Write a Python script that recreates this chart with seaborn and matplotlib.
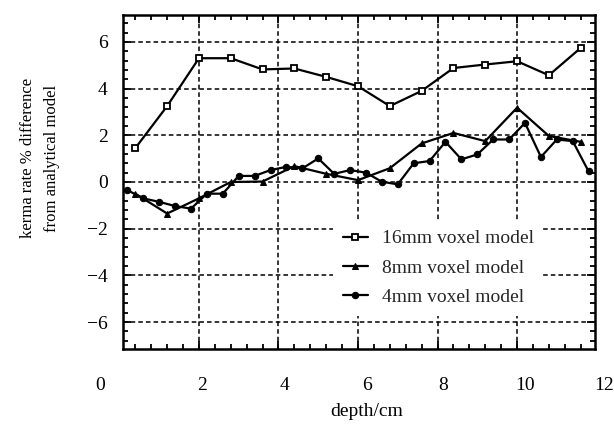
import numpy as np
import pandas as pd
import seaborn as sns
import matplotlib
matplotlib.use("Agg")
import matplotlib.pyplot as plt
from matplotlib.ticker import MultipleLocator, AutoMinorLocator
import matplotlib.transforms as mtransforms

# ---------------- data ----------------
depth_16mm = [0.4, 1.2, 2.0, 2.8, 3.6, 4.4, 5.2, 6.0, 6.8, 7.6, 8.4, 9.2, 10.0, 10.8, 11.6]
diff_16mm = [1.45, 3.25, 5.3, 5.3, 4.82, 4.86, 4.5, 4.1, 3.25, 3.9, 4.88, 5.03, 5.17, 4.57, 5.74]

depth_8mm = [0.4, 1.2, 2.0, 2.8, 3.6, 4.4, 5.2, 6.0, 6.8, 7.6, 8.4, 9.2, 10.0, 10.8, 11.6]
diff_8mm = [-0.5, -1.35, -0.7, 0.0, 0.02, 0.68, 0.35, 0.08, 0.59, 1.65, 2.1, 1.75, 3.18, 1.97, 1.72]

depth_4mm = [0.2, 0.6, 1.0, 1.4, 1.8, 2.2, 2.6, 3.0, 3.4, 3.8, 4.2, 4.6, 5.0, 5.4, 5.8,
             6.2, 6.6, 7.0, 7.4, 7.8, 8.2, 8.6, 9.0, 9.4, 9.8, 10.2, 10.6, 11.0, 11.4, 11.8]
diff_4mm = [-0.35, -0.7, -0.85, -1.03, -1.14, -0.5, -0.5, 0.26, 0.26, 0.51, 0.65, 0.58, 1.01, 0.35, 0.51,
            0.4, 0.01, -0.1, 0.8, 0.9, 1.72, 0.97, 1.18, 1.82, 1.82, 2.53, 1.07, 1.82, 1.75, 0.45]

series_labels = ["16mm voxel model", "8mm voxel model", "4mm voxel model"]
x_ticks = [0, 2, 4, 6, 8, 10, 12]
y_ticks = [-6, -4, -2, 0, 2, 4, 6]
x_label = "depth/cm"
y_label = "kerma rate % difference\nfrom analytical model"

# ---------------- style ----------------
sns.set_theme(style="white")
plt.rcParams["font.family"] = ["Liberation Serif", "DejaVu Serif"]
plt.rcParams["axes.unicode_minus"] = True

fig = plt.figure(figsize=(6.14, 4.26), dpi=100)
ax = fig.add_axes([123 / 614, 1 - 349 / 426, (595 - 123) / 614, (349 - 15) / 426])

df16 = pd.DataFrame({"depth": depth_16mm, "diff": diff_16mm})
df8 = pd.DataFrame({"depth": depth_8mm, "diff": diff_8mm})
df4 = pd.DataFrame({"depth": depth_4mm, "diff": diff_4mm})

common = dict(ax=ax, x="depth", y="diff", color="black", linewidth=1.6, zorder=3)
sns.lineplot(data=df16, label=series_labels[0], marker="s", markersize=4.3,
             markerfacecolor="white", markeredgecolor="black", markeredgewidth=1.3, **common)
sns.lineplot(data=df8, label=series_labels[1], marker="^", markersize=5,
             markerfacecolor="black", markeredgecolor="black", **common)
sns.lineplot(data=df4, label=series_labels[2], marker="o", markersize=4.6,
             markerfacecolor="black", markeredgecolor="black", **common)

ax.set_xlim(0.09, 11.96)
ax.set_ylim(-7.15, 7.15)

ax.xaxis.set_major_locator(MultipleLocator(2))
ax.yaxis.set_major_locator(MultipleLocator(2))
ax.xaxis.set_minor_locator(AutoMinorLocator(5))
ax.yaxis.set_minor_locator(AutoMinorLocator(5))
ax.set_yticks(y_ticks)

ax.tick_params(which="both", direction="in", top=True, right=True, bottom=True, left=True,
               color="black", width=1.3)
ax.tick_params(which="major", length=6)
ax.tick_params(which="minor", length=3.5)
ax.tick_params(axis="y", labelsize=14, pad=11, labelcolor="black")
ax.tick_params(axis="x", labelbottom=False)

for sp in ax.spines.values():
    sp.set_color("black")
    sp.set_linewidth(1.8)

ax.grid(True, which="major", color="black", linestyle=(0, (3, 2)), linewidth=1.1, zorder=1)
ax.set_axisbelow(True)

# x tick labels drawn as text below the axis (the reference has them nudged)
xtick_nudge_px = [-19, 3, 6, 9, 6, 8, 8]
for v, dx in zip(x_ticks, xtick_nudge_px):
    off = mtransforms.ScaledTranslation(dx / 100, -36 / 100, fig.dpi_scale_trans)
    tr = mtransforms.blended_transform_factory(ax.transData, ax.transAxes) + off
    ax.text(v, 0, str(v), transform=tr, ha="center", va="center", fontsize=14,
            color="black", clip_on=False)

ax.set_xlabel("")
ax.set_ylabel("")
fig.text(367 / 614, 1 - 411 / 426, x_label, ha="center", va="center", fontsize=14, color="black")
fig.text(40 / 614, 1 - 158 / 426, y_label, ha="center", va="center", rotation=90,
         fontsize=12, color="black", multialignment="center", linespacing=1.6)

leg = ax.legend(loc="lower left", bbox_to_anchor=(0.445, 0.1), frameon=True, fancybox=False,
                fontsize=14, handlelength=1.3, handletextpad=0.7, labelspacing=0.6,
                borderpad=0.5, borderaxespad=0)
leg.get_frame().set_facecolor("white")
leg.get_frame().set_edgecolor("none")
leg.get_frame().set_alpha(1.0)
leg.set_zorder(5)

fig.savefig("out.png", dpi=100)
